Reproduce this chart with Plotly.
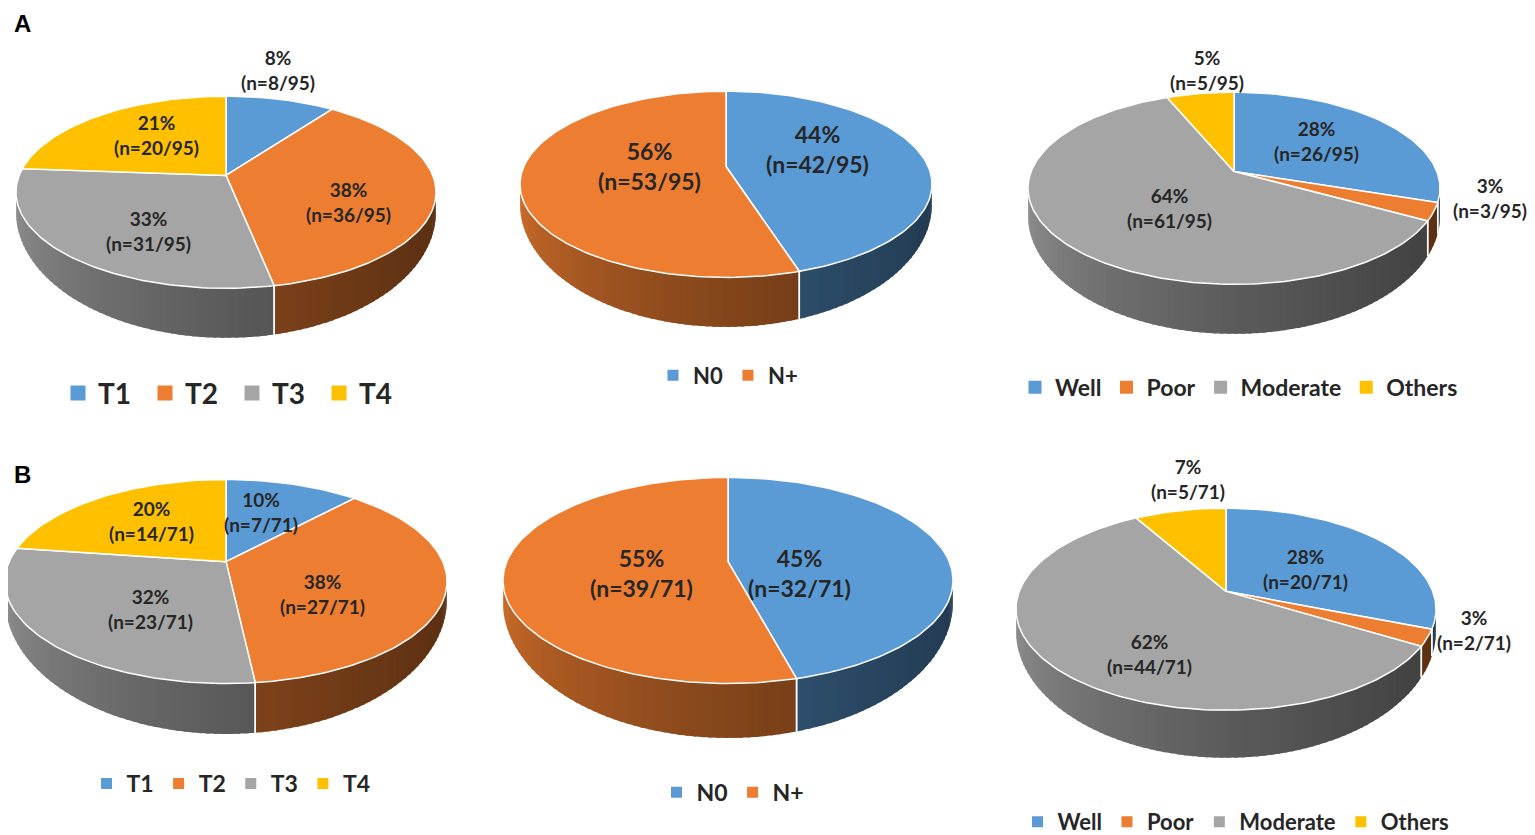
import numpy as np
import plotly.graph_objects as go

# ---- data ----
t_labels = ["T1", "T2", "T3", "T4"]
n_labels = ["N0", "N+"]
grade_labels = ["Well", "Poor", "Moderate", "Others"]

a_total = 95
a_t_counts = [8, 36, 31, 20]
a_t_pct = [8, 38, 33, 21]
a_n_counts = [42, 53]
a_n_pct = [44, 56]
a_grade_counts = [26, 3, 61, 5]
a_grade_pct = [28, 3, 64, 5]

b_total = 71
b_t_counts = [7, 27, 23, 14]
b_t_pct = [10, 38, 32, 20]
b_n_counts = [32, 39]
b_n_pct = [45, 55]
b_grade_counts = [20, 2, 44, 5]
b_grade_pct = [28, 3, 62, 7]

t_colors = ["#5B9BD5", "#ED7D31", "#A5A5A5", "#FFC000"]
n_colors = ["#5B9BD5", "#ED7D31"]
grade_colors = ["#5B9BD5", "#ED7D31", "#A5A5A5", "#FFC000"]

W, H = 1535, 835
OFF = 8  # the page body has an 8px margin, so the axes are shifted to keep pixel coords
FONT = "Lato"
TXT = "#262626"

# geometry of each 3d pie (pixels), label factors and legend placement
pies = [
    dict(counts=a_t_counts, pct=a_t_pct, total=a_total, names=t_labels, colors=t_colors,
         cx=226, cy=194, rx=210, ry=97, apex=177, depth=50, dc=20, ly=186, fs=19,
         k=[(0.95, 1.23), (0.59, 1.25), (0.52, 0.69), (0.54, 0.65)],
         leg="legend", lx=232, lyy=397, lfs=28, msize=15, ew=42),
    dict(counts=a_n_counts, pct=a_n_pct, total=a_total, names=n_labels, colors=n_colors,
         cx=726, cy=186, rx=206, ry=94, apex=168, depth=50, dc=20, ly=160, fs=23,
         k=[(0.45, 0.59), (0.38, 0.47)],
         leg="legend2", lx=728, lyy=379, lfs=22, msize=11, ew=0),
    dict(counts=a_grade_counts, pct=a_grade_pct, total=a_total, names=grade_labels, colors=grade_colors,
         cx=1234, cy=190, rx=206, ry=97, apex=173, depth=50, dc=28, ly=180, fs=19,
         k=[(0.53, 0.60), (1.28, 0.84), (0.44, 0.44), (0.79, 1.14)],
         leg="legend3", lx=1239, lyy=391, lfs=23, msize=13, ew=0),
    dict(counts=b_t_counts, pct=b_t_pct, total=b_total, names=t_labels, colors=t_colors,
         cx=226, cy=587, rx=221, ry=103, apex=567, depth=51, dc=18, ly=582, fs=19,
         k=[(0.52, 0.66), (0.45, 0.72), (0.44, 0.51), (0.58, 0.67)],
         leg="legend4", lx=231, lyy=791, lfs=23, msize=11, ew=0),
    dict(counts=b_n_counts, pct=b_n_pct, total=b_total, names=n_labels, colors=n_colors,
         cx=728, cy=586, rx=225, ry=104, apex=567, depth=55, dc=22, ly=578, fs=23,
         k=[(0.32, 0.0), (0.39, 0.0)],
         leg="legend5", lx=733, lyy=800, lfs=23, msize=11, ew=0),
    dict(counts=b_grade_counts, pct=b_grade_pct, total=b_total, names=grade_labels, colors=grade_colors,
         cx=1226, cy=615, rx=210, ry=102, apex=597, depth=48, dc=22, ly=611, fs=19,
         k=[(0.49, 0.57), (1.23, 0.86), (0.53, 0.66), (0.82, 1.28)],
         leg="legend6", lx=1236, lyy=830, lfs=22, msize=11, ew=0),
]


def shade(hexcol, f):
    r, g, b = int(hexcol[1:3], 16), int(hexcol[3:5], 16), int(hexcol[5:7], 16)
    return "rgb(%d,%d,%d)" % (r * f, g * f, b * f)


def top_xy(p, th):
    r = np.radians(th)
    return p["cx"] + p["rx"] * np.sin(r), p["cy"] - p["ry"] * np.cos(r)


def bot_xy(p, th):
    r = np.radians(th)
    dr = p["depth"] - p["dc"]
    return p["cx"] + p["rx"] * np.sin(r), p["cy"] + p["dc"] - (p["ry"] + dr) * np.cos(r)


fig = go.Figure()
wall_traces, face_traces, edge_traces = [], [], []
annotations = []

for p in pies:
    counts = np.array(p["counts"], dtype=float)
    bounds = np.concatenate([[0], np.cumsum(counts) / counts.sum() * 360])

    edge_x, edge_y = [], []
    for i, col in enumerate(p["colors"]):
        a0, a1 = bounds[i], bounds[i + 1]

        # side wall (only the front half shows), cut in strips for a light-to-dark gradient
        lo, hi = max(a0, 90), min(a1, 270)
        if hi > lo:
            nseg = int(np.ceil((hi - lo) / 2.0))
            cuts = np.linspace(lo, hi, nseg + 1)
            for s0, s1 in zip(cuts[:-1], cuts[1:]):
                s1x = min(s1 + 0.8, hi)  # small overlap hides the seams
                th = np.linspace(s0, s1x, 4)
                tx, ty = top_xy(p, th)
                bx, by = bot_xy(p, th[::-1])
                t = ((s0 + s1) / 2 - 90) / 180
                c = shade(col, 0.38 + 0.5 * t ** 1.5)
                wall_traces.append(go.Scatter(
                    x=np.concatenate([tx, bx]), y=np.concatenate([ty, by]),
                    fill="toself", fillcolor=c, mode="lines",
                    line=dict(width=0),
                    hoverinfo="skip", showlegend=False))
        for a in (a0, a1):
            if 90 < a < 270:
                tx, ty = top_xy(p, a)
                bx, by = bot_xy(p, a)
                edge_x += [tx, bx, None]
                edge_y += [ty, by, None]

        # top face of the slice
        th = np.linspace(a0, a1, max(int((a1 - a0) / 1.5), 4))
        fx, fy = top_xy(p, th)
        face_traces.append(go.Scatter(
            x=np.concatenate([[p["cx"]], fx, [p["cx"]]]),
            y=np.concatenate([[p["apex"]], fy, [p["apex"]]]),
            fill="toself", fillcolor=col, mode="lines",
            line=dict(color="white", width=1.5),
            hoverinfo="skip", showlegend=False))

        # data label
        m = np.radians((a0 + a1) / 2)
        kx, ky = p["k"][i]
        annotations.append(dict(
            x=p["cx"] + kx * p["rx"] * np.sin(m),
            y=p["ly"] - ky * p["ry"] * np.cos(m),
            xref="x", yref="y", showarrow=False,
            text="%d%%<br>(n=%d/%d)" % (p["pct"][i], p["counts"][i], p["total"]),
            font=dict(family=FONT, size=p["fs"], color=TXT, weight="bold")))

    edge_traces.append(go.Scatter(x=edge_x, y=edge_y, mode="lines",
                                  line=dict(color="white", width=1.5),
                                  hoverinfo="skip", showlegend=False))

for tr in wall_traces + edge_traces + face_traces:
    fig.add_trace(tr)

# legends: one per pie
legends = {}
for p in pies:
    for name, col in zip(p["names"], p["colors"]):
        fig.add_trace(go.Scatter(
            x=[None], y=[None], mode="markers", name=name,
            marker=dict(symbol="square", size=p["msize"], color=col),
            legend=p["leg"], showlegend=True, hoverinfo="skip"))
    leg = dict(orientation="h", x=(p["lx"] - OFF) / W, xanchor="center",
               y=1 - (p["lyy"] - OFF) / H, yanchor="middle",
               bgcolor="rgba(0,0,0,0)", itemclick=False, itemdoubleclick=False,
               font=dict(family=FONT, size=p["lfs"], color=TXT, weight="bold"))
    if p["ew"]:
        leg["entrywidth"] = p["ew"]
        leg["entrywidthmode"] = "pixels"
    legends[p["leg"]] = leg

# panel letters
for letter, yy in (("A", 24), ("B", 479)):
    annotations.append(dict(x=12, y=yy, xref="x", yref="y", xanchor="left",
                            showarrow=False, text="<b>%s</b>" % letter,
                            font=dict(family="Liberation Sans", size=24, color="black")))

fig.update_layout(
    width=W, height=H,
    margin=dict(l=0, r=0, t=0, b=0),
    paper_bgcolor="white", plot_bgcolor="white",
    xaxis=dict(range=[OFF, W + OFF], visible=False, fixedrange=True),
    yaxis=dict(range=[H + OFF, OFF], visible=False, fixedrange=True),
    annotations=annotations,
    **legends,
)

fig.write_html("out.html")
